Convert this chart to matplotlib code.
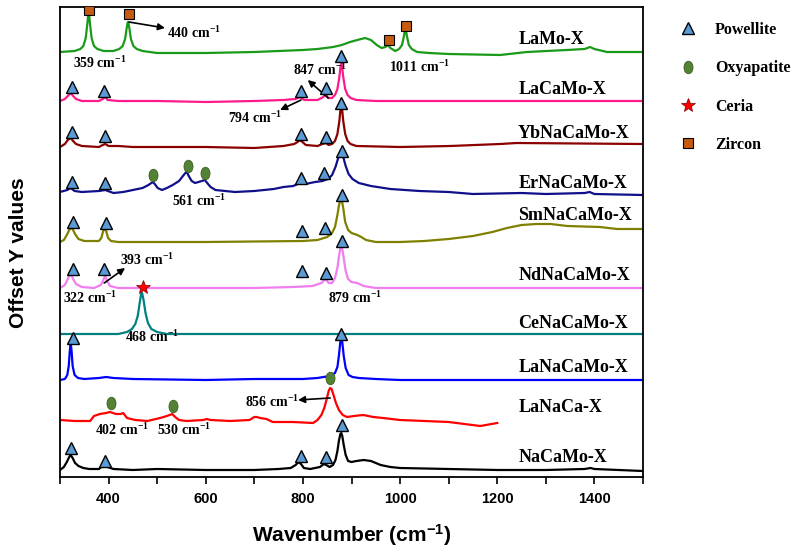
import numpy as np
import matplotlib.pyplot as plt
from matplotlib.path import Path
from matplotlib.transforms import Affine2D
from matplotlib.lines import Line2D

plt.rcParams['font.family'] = ['Liberation Serif', 'DejaVu Serif']
plt.rcParams['font.weight'] = 'bold'
plt.rcParams['mathtext.fontset'] = 'custom'
plt.rcParams['mathtext.rm'] = 'Liberation Serif:bold'
plt.rcParams['mathtext.sf'] = 'Liberation Sans:bold'
plt.rcParams['mathtext.default'] = 'rm'

# sample names, top to bottom, with their vertical offsets
names = ["LaMo-X", "LaCaMo-X", "YbNaCaMo-X", "ErNaCaMo-X", "SmNaCaMo-X",
         "NdNaCaMo-X", "CeNaCaMo-X", "LaNaCaMo-X", "LaNaCa-X", "NaCaMo-X"]
offsets = [425, 376, 330, 285, 235, 189, 143, 97, 57, 7]
colors = ["#1a9a1a", "#ff1a8c", "#8b0000", "#10108a", "#808000",
          "#f07ef0", "#008080", "#0000ff", "#ff0000", "#000000"]

# (wavenumber, intensity above baseline)
lamo = [(300, 0), (330, 1), (342, 3), (348, 6), (353, 14), (356, 27), (358, 37), (359, 40),
        (360, 37), (362, 27), (365, 14), (370, 6), (377, 3), (390, 1), (410, 1), (422, 3),
        (429, 6), (434, 13), (437, 23), (439, 29), (440, 30), (441, 29), (443, 23),
        (446, 13), (451, 6), (458, 3), (470, 1), (500, -1), (600, -1), (700, 0), (750, 1),
        (800, 2), (830, 3), (862, 5), (880, 7), (897, 10), (912, 12), (928, 14), (940, 12),
        (952, 7), (962, 4), (970, 5), (975, 7), (980, 4), (990, 1), (998, 3), (1004, 7),
        (1008, 16), (1010, 22), (1011, 23), (1012, 22), (1014, 16), (1018, 7), (1024, 3),
        (1035, 0), (1060, -1), (1100, -2), (1206, -3), (1261, 0), (1343, 2), (1380, 3),
        (1391, 5), (1400, 3), (1426, 0), (1500, 0)]
lacamo = [(300, 0), (310, 2), (316, 5), (322, 8), (327, 5), (333, 2), (345, 0), (380, 0),
          (388, 2), (393, 4), (398, 1), (420, 0), (500, 0), (600, -1), (700, 0), (760, 1),
          (785, 2), (794, 4), (803, 1), (830, 1), (842, 4), (847, 7), (852, 3), (860, 3),
          (866, 6), (871, 12), (875, 24), (877, 33), (879, 39), (881, 33), (883, 24),
          (887, 12), (892, 6), (898, 3), (910, 1), (950, 0), (1500, 0)]
ybnacamo = [(300, 0), (310, 3), (316, 7), (322, 9), (327, 6), (333, 3), (345, 1), (380, 0),
            (388, 2), (393, 3), (400, 1), (420, 1), (450, 0), (600, 0), (700, -1), (760, 1),
            (782, 3), (789, 5), (794, 7), (799, 5), (806, 2), (830, 1), (840, 3), (847, 4),
            (853, 2), (860, 3), (866, 6), (871, 13), (875, 26), (877, 36), (879, 42),
            (881, 36), (883, 26), (887, 13), (892, 6), (898, 3), (910, 1), (1000, 0),
            (1103, 1), (1206, 3), (1240, 4), (1500, 3)]
ernacamo = [(300, 0), (315, 2), (322, 4), (330, 1), (345, 0), (380, 1), (393, 2), (410, -1),
            (430, 0), (450, 2), (470, 4), (482, 7), (488, 9), (491, 10), (495, 8), (501, 4),
            (510, 2), (520, 4), (532, 7), (545, 11), (553, 16), (558, 19), (561, 20),
            (565, 16), (571, 11), (578, 9), (585, 10), (592, 11), (598, 12), (603, 9),
            (610, 5), (620, 2), (640, 1), (660, 0), (700, 1), (740, 3), (760, 5), (780, 6),
            (794, 9), (805, 8), (825, 10), (840, 11), (852, 13), (860, 17), (867, 25),
            (872, 33), (876, 38), (879, 39), (883, 35), (888, 26), (894, 18), (902, 13),
            (915, 9), (940, 6), (980, 3), (1040, 1), (1100, 0), (1150, -2), (1250, -1),
            (1300, -2), (1380, -1), (1390, 0), (1400, -2), (1500, -3)]
smnacamo = [(300, 0), (308, 2), (314, 7), (319, 12), (322, 14), (326, 13), (331, 8),
            (338, 3), (350, 1), (380, 1), (385, 4), (389, 11), (392, 14), (395, 11),
            (399, 4), (405, 1), (420, 0), (600, 0), (800, 1), (830, 2), (850, 5), (860, 9),
            (866, 15), (871, 27), (874, 36), (877, 42), (880, 42), (883, 34), (887, 20),
            (893, 12), (900, 9), (912, 7), (920, 5), (930, 2), (950, 0), (1000, 0),
            (1050, 1), (1100, 3), (1150, 6), (1190, 10), (1220, 14), (1250, 17), (1280, 18),
            (1310, 18), (1344, 16), (1411, 15), (1447, 13), (1500, 13)]
ndnacamo = [(300, 0), (310, 3), (316, 9), (322, 15), (327, 9), (333, 4), (345, 1), (370, 0),
            (384, 3), (389, 8), (393, 12), (397, 7), (403, 2), (420, 0), (700, 0), (780, 1),
            (820, 2), (838, 5), (847, 9), (853, 5), (860, 5), (866, 10), (871, 20),
            (874, 31), (877, 40), (879, 42), (881, 39), (884, 30), (888, 17), (893, 9),
            (900, 6), (912, 5), (925, 2), (950, 0), (1500, 0)]
cenacamo = [(300, 0), (420, 0), (438, 2), (448, 5), (455, 10), (460, 18), (464, 31), (467, 40),
            (469, 41), (472, 34), (476, 21), (481, 11), (488, 5), (500, 2), (520, 0),
            (1500, 0)]
lanacamo = [(300, 0), (310, 1), (315, 5), (318, 14), (320, 28), (322, 38), (324, 28),
            (326, 14), (330, 5), (337, 2), (350, 1), (380, 2), (395, 3), (410, 2), (450, 1),
            (600, 0), (700, 1), (800, 1), (830, 2), (855, 4), (866, 7), (871, 13), (874, 24),
            (877, 38), (879, 43), (881, 38), (884, 24), (888, 12), (894, 5), (902, 3),
            (915, 2), (950, 1), (1000, 0), (1500, 0)]
lanaca = [(300, 0), (330, -1), (362, -1), (370, 4), (382, 6), (395, 7), (403, 8), (415, 6),
          (425, 6), (430, 7), (438, 2), (455, 0), (480, -1), (506, 2), (520, 4), (531, 6),
          (537, 3), (545, 0), (560, -1), (595, 0), (602, 1), (610, 0), (650, -1), (690, 0),
          (700, 3), (705, 3), (712, 2), (725, 1), (738, -2), (780, -2), (821, -3), (830, 0),
          (838, 5), (844, 12), (849, 21), (853, 29), (856, 32), (859, 31), (863, 25),
          (868, 17), (874, 10), (882, 5), (891, 3), (905, 4), (924, 5), (945, 3), (965, 2),
          (1000, 0), (1100, -2), (1165, -6), (1200, -3)]
nacamo = [(300, 0), (308, 3), (314, 8), (319, 13), (322, 15), (326, 12), (331, 7), (338, 4),
          (348, 2), (360, 1), (380, 1), (388, 4), (393, 7), (398, 3), (410, 1), (450, 0),
          (500, 1), (600, 0), (700, 0), (750, 1), (775, 2), (785, 5), (791, 8), (796, 6),
          (802, 2), (815, 1), (835, 3), (843, 6), (848, 5), (855, 3), (862, 5), (867, 10),
          (871, 19), (874, 29), (877, 36), (879, 37), (881, 34), (884, 25), (888, 15),
          (893, 9), (900, 8), (910, 9), (925, 10), (940, 9), (960, 5), (980, 3), (1000, 2),
          (1100, 1), (1200, 0), (1300, 0), (1380, 1), (1392, 2), (1400, 1), (1500, -1)]
spectra = [lamo, lacamo, ybnacamo, ernacamo, smnacamo, ndnacamo, cenacamo, lanacamo, lanaca, nacamo]

# phase markers: (sample index, wavenumber, height above baseline)
powellite = [(1, 325, 14), (1, 391, 10), (1, 796, 10), (1, 848, 13), (1, 878, 45),
             (2, 324, 15), (2, 393, 11), (2, 796, 13), (2, 848, 10), (2, 878, 44),
             (3, 324, 10), (3, 393, 9), (3, 796, 14), (3, 843, 19), (3, 880, 41),
             (4, 327, 20), (4, 395, 19), (4, 798, 11), (4, 845, 14), (4, 880, 47),
             (5, 327, 19), (5, 391, 19), (5, 798, 17), (5, 848, 15), (5, 880, 47),
             (7, 327, 42), (7, 878, 46),
             (9, 323, 22), (9, 393, 9), (9, 796, 14), (9, 848, 13), (9, 880, 45)]
oxyapatite = [(3, 491, 17), (3, 563, 26), (3, 598, 19),
              (8, 405, 17), (8, 533, 14), (8, 856, 42)]
ceria = [(6, 471, 47)]
zircon = [(0, 360, 42), (0, 442, 38), (0, 977, 12), (0, 1012, 26)]

label_dy = [12, 11, 14, 9, 27, 13, 11, 13, 12, 12]

fig = plt.figure(figsize=(7.93, 5.52), dpi=100)
ax = fig.add_axes([60 / 793, 75 / 552, 583 / 793, 470 / 552])

for i, spec in enumerate(spectra):
    wn, inten = np.array(spec, dtype=float).T
    ax.plot(wn, inten + offsets[i], color=colors[i], lw=1.6, solid_joinstyle='round')
    ax.text(1243, offsets[i] + label_dy[i], names[i], fontsize=13, fontweight='bold',
            ha='left', va='center')

oval = Path.unit_circle().transformed(Affine2D().scale(0.72, 1.0))
styles = {
    "Powellite": dict(marker='^', ms=9, mfc='#5b9bd5', mec='black', mew=1.0),
    "Oxyapatite": dict(marker=oval, ms=9, mfc='#548235', mec='#3b5e22', mew=0.6),
    "Ceria": dict(marker='*', ms=10, mfc='#ff0000', mec='#7a0000', mew=0.5),
    "Zircon": dict(marker='s', ms=7, mfc='#c55a11', mec='black', mew=0.8),
}
for key, pts in [("Powellite", powellite), ("Oxyapatite", oxyapatite),
                 ("Ceria", ceria), ("Zircon", zircon)]:
    xs = [p[1] for p in pts]
    ys = [offsets[p[0]] + p[2] for p in pts]
    ax.plot(xs, ys, ls='none', zorder=5, **styles[key])

cm = r" cm$^{-1}$"
notes = [("440", 520, 444), ("359", 327, 414), ("1011", 977, 410), ("847", 780, 407),
         ("794", 646, 359), ("561", 531, 276), ("393", 424, 217), ("322", 306, 179),
         ("879", 852, 179), ("468", 434, 140), ("856", 681, 75), ("402", 372, 47),
         ("530", 500, 47)]
for t, x, y in notes:
    ax.text(x, y, t + cm, fontsize=10, fontweight='bold', ha='left', va='center')

arrows = [((442, 455), (516, 449)), ((852, 379), (810, 397)), ((796, 377), (753, 367)),
          ((391, 194), (434, 209)), ((856, 79), (790, 77))]
for tail, head in arrows:
    ax.annotate("", xy=head, xytext=tail,
                arrowprops=dict(arrowstyle='-|>', color='black', lw=1.2,
                                mutation_scale=10, shrinkA=0, shrinkB=0))

ax.set_xlim(300, 1500)
ax.set_ylim(0, 470)
ax.set_xticks(np.arange(400, 1401, 200))
ax.set_xticks(np.arange(300, 1501, 100), minor=True)
ax.set_yticks([])
ax.tick_params(axis='x', which='both', direction='out', length=5, width=1.2, pad=6)
for lab in ax.get_xticklabels():
    lab.set_fontfamily(['Liberation Sans', 'DejaVu Sans'])
    lab.set_fontweight('bold')
    lab.set_fontsize(10.5)
for s in ax.spines.values():
    s.set_linewidth(1.3)

fig.text(352 / 793, 1 - 535 / 552, r"Wavenumber (cm$\mathsf{^{-1}}$)", fontsize=15,
         fontweight='bold', family=['Liberation Sans', 'DejaVu Sans'],
         ha='center', va='center')
fig.text(19 / 793, 1 - 253 / 552, "Offset Y values", fontsize=15, fontweight='bold',
         family=['Liberation Sans', 'DejaVu Sans'], rotation=90, ha='center', va='center')

handles = [Line2D([], [], ls='none', **styles[k]) for k in styles]
fig.legend(handles, list(styles.keys()), loc='upper left', bbox_to_anchor=(680 / 793, 1 - 22 / 552),
           frameon=False, prop=dict(weight='bold', size=11.5), handlelength=1,
           handletextpad=1.2, labelspacing=1.4, borderpad=0, borderaxespad=0)

fig.savefig("out.png", dpi=100)
